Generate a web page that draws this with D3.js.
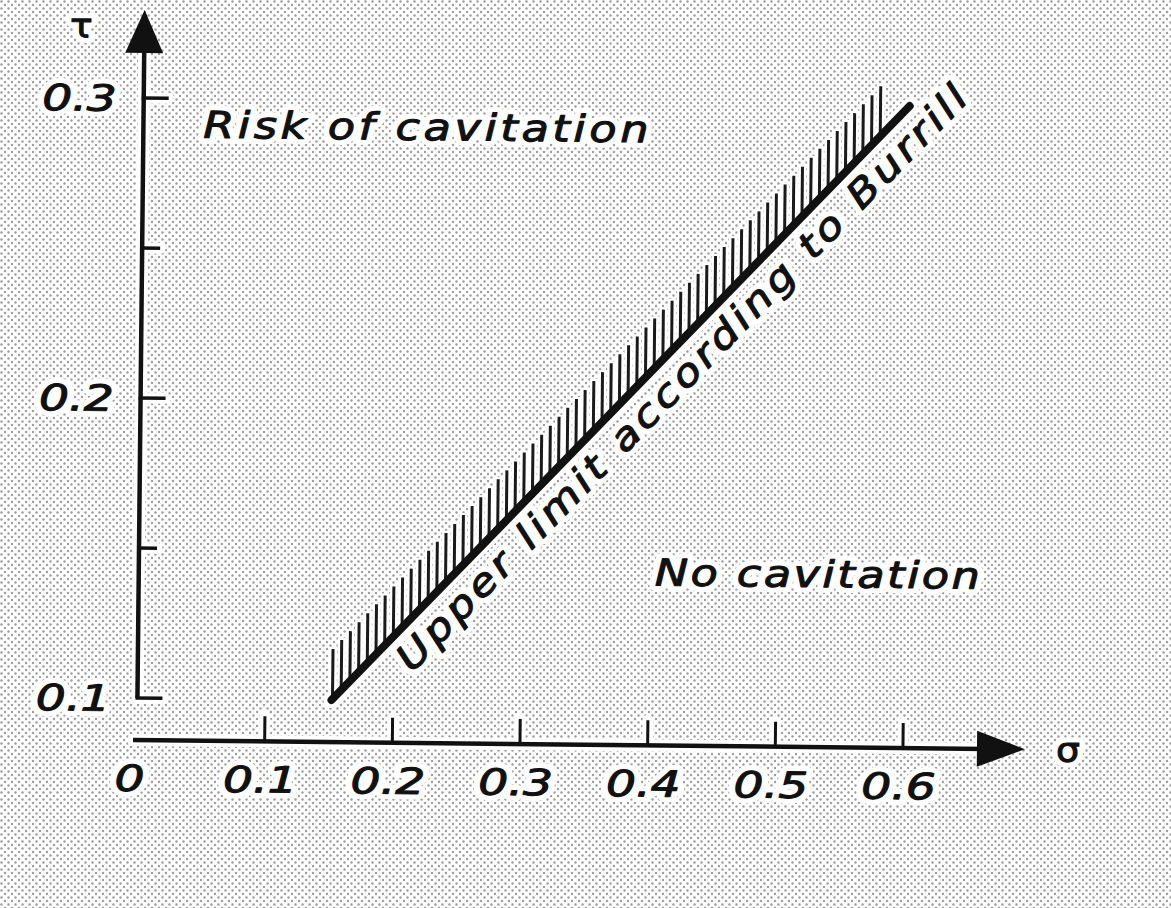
<!DOCTYPE html>
<html>
<head>
	<meta charset="utf-8">
	<title>Burrill cavitation limit</title>
	<script src="https://cdn.jsdelivr.net/npm/d3@7"></script>
	<style type="text/css">
		html, body {
			margin: 0;
			padding: 0;
			background: white;
		}
		svg text {
			font-family: 'DejaVu Sans', sans-serif;
			font-style: italic;
		}
		.halo {
			fill: white;
			stroke: white;
			stroke-width: 11px;
			stroke-linejoin: round;
		}
		.ink {
			fill: #111;
			stroke: #111;
			stroke-width: 1.1px;
			stroke-linejoin: round;
		}
	</style>
</head>
<body>

<svg id="chart"></svg>

<script type="text/javascript">

// values
var sigmaTicks = [0.1, 0.2, 0.3, 0.4, 0.5, 0.6];
var sigmaLabels = ["0", "0.1", "0.2", "0.3", "0.4", "0.5", "0.6"];
var sigmaLabelValues = [0, 0.1, 0.2, 0.3, 0.4, 0.5, 0.6];
var tauTicks = [0.1, 0.15, 0.2, 0.25, 0.3];
var tauLabels = ["0.1", "0.2", "0.3"];
var tauLabelValues = [0.1, 0.2, 0.3];

// Burrill upper limit line (sigma, tau)
var burrillSigma = [0.152, 0.6];
var burrillTau = [0.1, 0.3];

var width = 1171;
var height = 908;

var svg = d3.select("#chart")
	.attr("width", width)
	.attr("height", height);

// stippled paper
var defs = svg.append("defs");
var pat = defs.append("pattern")
	.attr("id", "stip")
	.attr("width", 7)
	.attr("height", 7)
	.attr("patternUnits", "userSpaceOnUse");
pat.append("rect").attr("width", 7).attr("height", 7).attr("fill", "white");
pat.append("circle").attr("cx", 1.5).attr("cy", 1.5).attr("r", 1.2).attr("fill", "#9c9c9c");
pat.append("circle").attr("cx", 5).attr("cy", 5).attr("r", 1.2).attr("fill", "#9c9c9c");

svg.append("rect")
	.attr("width", width)
	.attr("height", height)
	.attr("fill", "url(#stip)");

// scanned slightly crooked
var g = svg.append("g")
	.attr("transform", "rotate(0.6, 137, 740)");

var x = d3.scaleLinear().domain([0, 0.6]).range([137, 903]);
var y = d3.scaleLinear().domain([0.1, 0.3]).range([698, 98]);

var xAxisY = 740;
var yAxisX = x(0);

var halo = g.append("g");
var ink = g.append("g");
var words = g.append("g");

function haloLine(x1, y1, x2, y2, w) {
	halo.append("line")
		.attr("x1", x1).attr("y1", y1).attr("x2", x2).attr("y2", y2)
		.attr("stroke", "white").attr("stroke-width", w + 8).attr("stroke-linecap", "round");
}

// lettering: a white halo under the ink, stretched wider like the stencil letters
function letter(str, px, py, o) {
	var t = "translate(" + px + "," + py + ")";
	if (o.rotate) t += " rotate(" + o.rotate + ")";
	t += " scale(" + (o.sx || 1) + ",1)";
	var grp = words.append("g").attr("transform", t);
	["halo", "ink"].forEach(function(cls) {
		var el = grp.append("text")
			.attr("class", cls)
			.attr("font-size", o.size)
			.attr("text-anchor", o.anchor || "start")
			.text(str);
		if (o.upright) el.style("font-style", "normal");
		if (o.length) el.attr("textLength", o.length / (o.sx || 1)).attr("lengthAdjust", "spacing");
	});
}

// ---- y axis ----
haloLine(yAxisX, y(0.1), yAxisX, 40, 4);
ink.append("line")
	.attr("x1", yAxisX).attr("y1", y(0.1))
	.attr("x2", yAxisX).attr("y2", 45)
	.attr("stroke", "#111").attr("stroke-width", 4.5);

tauTicks.forEach(function(t, i) {
	var len = (i % 2 === 0) ? 25 : 18;
	haloLine(yAxisX, y(t), yAxisX + len, y(t), 3);
	ink.append("line")
		.attr("x1", yAxisX - 2).attr("y1", y(t))
		.attr("x2", yAxisX + len).attr("y2", y(t))
		.attr("stroke", "#111").attr("stroke-width", 3.5);
});

ink.append("path")
	.attr("d", "M" + (yAxisX - 19) + ",53 L" + yAxisX + ",10 L" + (yAxisX + 19) + ",53 Z")
	.attr("fill", "#111");

tauLabelValues.forEach(function(d, i) {
	letter(tauLabels[i], 110, y(d) + 13, {size: 36, anchor: "end", sx: 1.3});
});

letter("τ", 74, 38, {size: 34, anchor: "middle", upright: true, sx: 1.1});

// ---- x axis ----
haloLine(133, xAxisY, 1000, xAxisY, 4);
ink.append("line")
	.attr("x1", 133).attr("y1", xAxisY)
	.attr("x2", 985).attr("y2", xAxisY)
	.attr("stroke", "#111").attr("stroke-width", 4.5);

sigmaTicks.forEach(function(s) {
	haloLine(x(s), xAxisY, x(s), xAxisY - 25, 3);
	ink.append("line")
		.attr("x1", x(s)).attr("y1", xAxisY)
		.attr("x2", x(s)).attr("y2", xAxisY - 25)
		.attr("stroke", "#111").attr("stroke-width", 3);
});

ink.append("path")
	.attr("d", "M977," + (xAxisY - 18) + " L1025," + xAxisY + " L977," + (xAxisY + 18) + " Z")
	.attr("fill", "#111");

sigmaLabelValues.forEach(function(d, i) {
	var px = d === 0 ? x(d) - 7 : x(d) - 4;
	letter(sigmaLabels[i], px, 791, {size: 36, anchor: "middle", sx: 1.3});
});

letter("σ", 1068, 752, {size: 34, anchor: "middle", upright: true, sx: 1.1});

// ---- Burrill line with hatching ----
var x0 = x(burrillSigma[0]), y0 = y(burrillTau[0]);
var x1 = x(burrillSigma[1]), y1 = y(burrillTau[1]);
var lineY = d3.scaleLinear().domain([x0, x1]).range([y0, y1]);

var hatchX = d3.range(x0 + 1, x(0.578), 8.6);
halo.selectAll(".hatchHalo")
	.data(hatchX)
	.enter().append("line")
	.attr("x1", function(d) { return d; })
	.attr("x2", function(d) { return d; })
	.attr("y1", function(d) { return lineY(d); })
	.attr("y2", function(d) { return lineY(d) - 52; })
	.attr("stroke", "white").attr("stroke-width", 8);

ink.selectAll(".hatch")
	.data(hatchX)
	.enter().append("line")
	.attr("class", "hatch")
	.attr("x1", function(d) { return d; })
	.attr("x2", function(d) { return d; })
	.attr("y1", function(d) { return lineY(d); })
	.attr("y2", function(d) { return lineY(d) - 50; })
	.attr("stroke", "#1a1a1a").attr("stroke-width", 3);

haloLine(x0, y0, x1, y1, 8);
ink.append("line")
	.attr("x1", x0).attr("y1", y0)
	.attr("x2", x1).attr("y2", y1)
	.attr("stroke", "#111").attr("stroke-width", 8)
	.attr("stroke-linecap", "round");

// text along the line
var dx = x1 - x0, dy = y1 - y0;
var len = Math.sqrt(dx * dx + dy * dy);
var ux = dx / len, uy = dy / len;
var nx = -uy, ny = ux;
var angle = Math.atan2(dy, dx) * 180 / Math.PI;
var tx = x0 + 75 * ux + 39 * nx;
var ty = y0 + 75 * uy + 39 * ny;

letter("Upper limit according to Burrill", tx, ty, {size: 37, rotate: angle, sx: 1.2, length: 800});

// region labels
letter("Risk of cavitation", 197, 137, {size: 37, sx: 1.2, length: 445});
letter("No cavitation", 653, 580, {size: 37, sx: 1.2, length: 325});

</script>

</body>
</html>
